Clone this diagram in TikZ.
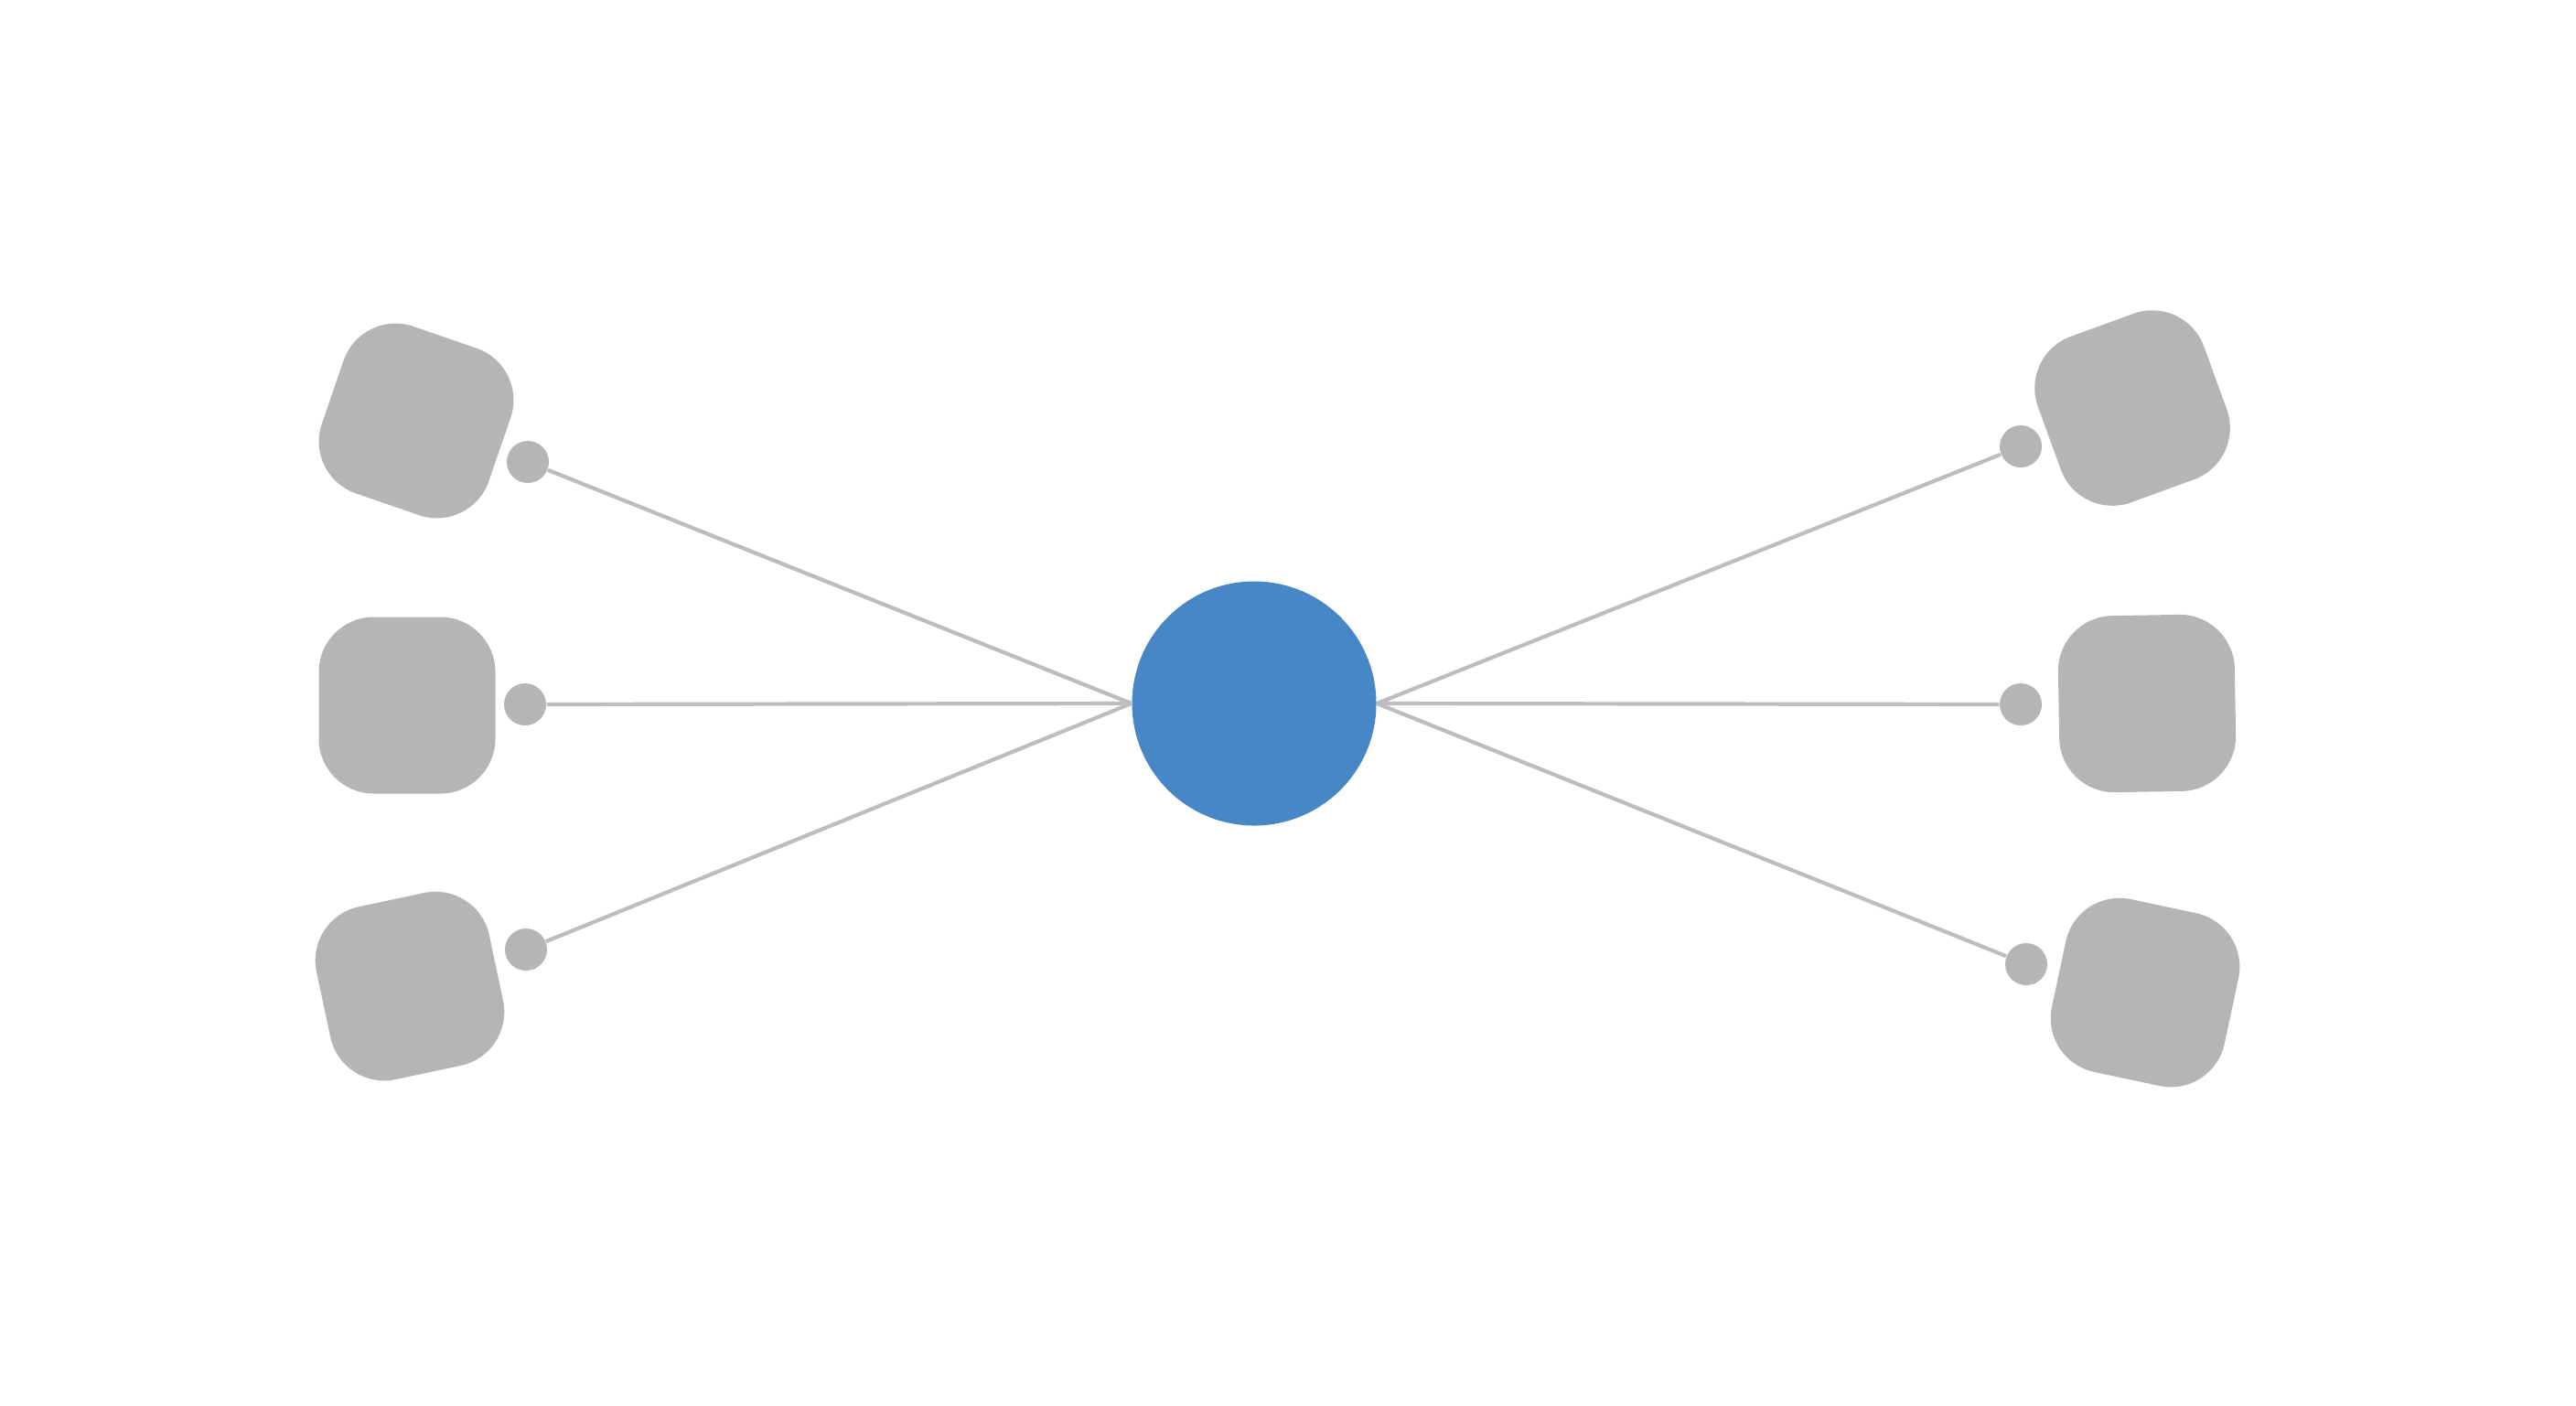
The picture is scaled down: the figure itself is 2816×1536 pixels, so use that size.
\documentclass[tikz,border=0pt]{standalone}
\usepackage{tikz}
\usetikzlibrary{positioning}
\definecolor{hubblue}{HTML}{4787C6}
\definecolor{boxgray}{HTML}{B5B5B5}
\definecolor{linegray}{HTML}{BDBDBD}

\begin{document}
\begin{tikzpicture}[x=0.1mm,y=-0.1mm,
    hub/.style={circle,fill=hubblue,minimum size=26.7mm,inner sep=0pt},
    tile/.style={rectangle,fill=boxgray,minimum size=19.3mm,rounded corners=6mm,inner sep=0pt},
    pin/.style={circle,fill=boxgray,minimum size=4.6mm,inner sep=0pt},
    link/.style={draw=linegray,line width=0.42mm}]
  \useasboundingbox (0,0) rectangle (2816,1536);

  % 中间
  \node[hub] (hub) at (1371,769) {};

  % 左边
  \node[tile,rotate=-19] (tl) at (455,460) {};
  \node[tile] (ml) at (445,771) {};
  \node[tile,rotate=12] (bl) at (448,1078) {};
  \node[pin] (ptl) at (577,505) {};
  \node[pin] (pml) at (574,770) {};
  \node[pin] (pbl) at (575,1038) {};

  % 右边
  \node[tile,rotate=20] (tr) at (2331,446) {};
  \node[tile,rotate=1] (mr) at (2347,769) {};
  \node[tile,rotate=-12] (br) at (2345,1085) {};
  \node[pin] (ptr) at (2209,488) {};
  \node[pin] (pmr) at (2209,770) {};
  \node[pin] (pbr) at (2215,1054) {};

  % 连线
  \foreach \p in {ptl,pml,pbl}
    \draw[link] (\p) -- (hub.west);
  \foreach \p in {ptr,pmr,pbr}
    \draw[link] (\p) -- (hub.east);
\end{tikzpicture}
\end{document}
